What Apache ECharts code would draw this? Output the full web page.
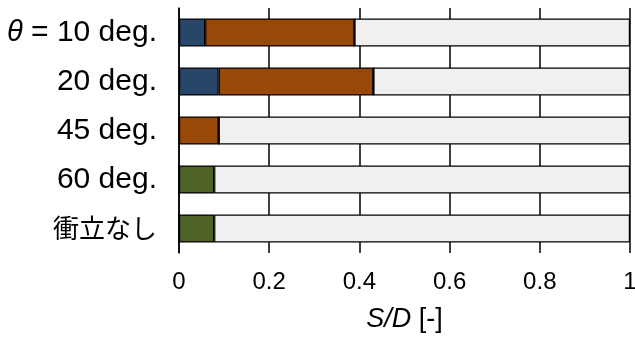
<!DOCTYPE html>
<html>
<head>
<meta charset="utf-8">
<script src="https://cdn.jsdelivr.net/npm/echarts@6/dist/echarts.min.js"></script>
<style>
  html, body { margin: 0; padding: 0; background: #ffffff; }
  #chart { width: 635px; height: 340px; }
</style>
</head>
<body>
<div id="chart"></div>
<script>
// Share of S/D per condition, stacked left to right
const categories = ['θ = 10 deg.', '20 deg.', '45 deg.', '60 deg.', '衝立なし'];
const blueValues   = [0.058, 0.088, 0, 0, 0];
const orangeValues = [0.331, 0.343, 0.088, 0, 0];
const greenValues  = [0, 0, 0, 0.078, 0.078];
const restValues   = [0.611, 0.569, 0.912, 0.922, 0.922];
const xTicks = [0, 0.2, 0.4, 0.6, 0.8, 1];

const FONT = "'Liberation Sans', Arial, 'Noto Sans CJK JP', sans-serif";
const CJK_FONT = "'Noto Sans CJK JP', sans-serif";

const chart = echarts.init(document.getElementById('chart'), null, { renderer: 'canvas' });

function barSeries(name, data, color) {
  return {
    name: name,
    type: 'bar',
    stack: 'total',
    data: data,
    barWidth: 28,
    itemStyle: { color: color, borderColor: '#000000', borderWidth: 1.2 },
    silent: true
  };
}

chart.setOption({
  animation: false,
  backgroundColor: '#ffffff',
  grid: { left: 179, right: 5, top: 8, height: 245, containLabel: false, outerBoundsMode: 'none' },
  xAxis: {
    type: 'value',
    min: 0,
    max: 1,
    interval: 0.2,
    axisLine: { show: false },
    axisTick: { show: false },
    splitLine: { show: true, lineStyle: { color: '#000000', width: 1.5 } },
    axisLabel: {
      margin: 17,
      fontFamily: FONT,
      fontSize: 24,
      color: '#000000',
      formatter: function (v) {
        const hit = xTicks.find(t => Math.abs(t - v) < 1e-9);
        return hit === undefined ? '' : String(hit);
      }
    },
    name: '{i|S/D} [-]',
    nameLocation: 'middle',
    nameGap: 53,
    nameTextStyle: {
      fontFamily: FONT,
      fontSize: 27,
      color: '#000000',
      rich: {
        i: { fontFamily: FONT, fontSize: 27, fontStyle: 'italic', color: '#000000' }
      }
    }
  },
  yAxis: {
    type: 'category',
    inverse: true,
    data: categories,
    axisLine: { show: true, lineStyle: { color: '#000000', width: 1.5 } },
    axisTick: { show: false },
    splitLine: { show: false },
    axisLabel: {
      margin: 22,
      fontFamily: FONT,
      fontSize: 30,
      color: '#000000',
      formatter: function (v) {
        if (v.indexOf('θ') === 0) {
          return '{i|θ}' + v.slice(1);
        }
        if (/[\u3040-\u30ff\u4e00-\u9fff]/.test(v)) {
          return '{j|' + v + '}';
        }
        return v;
      },
      rich: {
        i: { fontFamily: FONT, fontSize: 29, fontStyle: 'italic', color: '#000000' },
        j: { fontFamily: CJK_FONT, fontSize: 26, color: '#000000' }
      }
    }
  },
  series: [
    barSeries('blue', blueValues, '#28456a'),
    barSeries('orange', orangeValues, '#984807'),
    barSeries('green', greenValues, '#4f6228'),
    barSeries('rest', restValues, '#f0f0f0')
  ]
});
</script>
</body>
</html>
